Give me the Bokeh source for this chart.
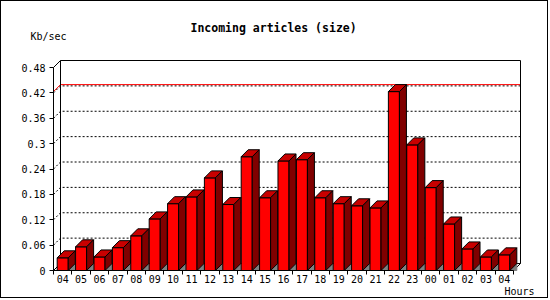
from bokeh.plotting import figure
from bokeh.models import FixedTicker, Label, Range1d
from bokeh.embed import file_html
from bokeh.resources import INLINE

# ---- data ----
hours = ["04", "05", "06", "07", "08", "09", "10", "11", "12", "13", "14", "15",
         "16", "17", "18", "19", "20", "21", "22", "23", "00", "01", "02", "03", "04"]
kbsec = [0.030, 0.056, 0.032, 0.054, 0.082, 0.122, 0.158, 0.174, 0.219, 0.156,
         0.269, 0.172, 0.259, 0.262, 0.172, 0.158, 0.153, 0.148, 0.423, 0.297,
         0.196, 0.110, 0.051, 0.032, 0.037]
y_ticks = [0, 0.06, 0.12, 0.18, 0.24, 0.30, 0.36, 0.42, 0.48]
y_tick_labels = ["0", "0.06", "0.12", "0.18", "0.24", "0.3", "0.36", "0.42", "0.48"]
title_text = "Incoming articles (size)"
y_title = "Kb/sec"
x_title = "Hours"

# ---- geometry (page pixels) ----
B = 1                         # outer border width
W, H = 550 - 2 * B, 300 - 2 * B
n = len(hours)
X0, Y0 = 53, 270              # page position of the front axes origin
PX_X = (513 - X0) / n         # px per category
PX_Y = (Y0 - 67) / 0.48       # px per unit
DEPTH = 7
DX = DEPTH / PX_X
DY = DEPTH / PX_Y
YTOP = y_ticks[-1]


def dxp(x):
    return (x - X0) / PX_X


def dyp(y):
    return (Y0 - y) / PX_Y


FONT = "DejaVu Sans Mono"

p = figure(width=W, height=H, output_backend="svg", toolbar_location=None,
           x_range=Range1d(dxp(B), dxp(B + W)), y_range=Range1d(dyp(B + H), dyp(B)),
           min_border=0, min_border_left=0, min_border_right=0,
           min_border_top=0, min_border_bottom=0)
p.styles = {"border": "1px solid black"}
p.outline_line_color = None
p.xgrid.visible = False
p.ygrid.visible = False
p.title.visible = False
p.background_fill_color = "white"
p.border_fill_color = "white"

# dotted grid lines (with the slanted part from front axis to back plane)
gx, gy = [], []
for t in y_ticks[1:-1]:
    gx.append([0, DX, n + DX])
    gy.append([t, t + DY, t + DY])
p.multi_line(gx, gy, line_color="black", line_width=1, line_dash="2 2")

# max line
m = max(kbsec)
p.line([0, DX, n + DX], [m, m + DY, m + DY], line_color="red", line_width=1)

# back plane box and corner diagonals
p.multi_line([[DX, DX, n + DX, n + DX, DX], [0, DX], [n, n + DX], [0, DX]],
             [[DY, YTOP + DY, YTOP + DY, DY, DY], [YTOP, YTOP + DY], [0, DY], [0, DY]],
             line_color="black", line_width=1)

# bars
lefts = [i + 0.2 for i in range(n)]
rights = [i + 0.8 for i in range(n)]
p.patches([[r, r + DX, r + DX] for r in rights],
          [[0, DY, 0] for _ in rights],
          fill_color="#808080", line_color="#808080")
p.quad(left=lefts, right=rights, bottom=[0] * n, top=kbsec,
       fill_color="#ff0000", line_color="black", line_width=1)
p.patches([[l, l + DX, r + DX, r] for l, r in zip(lefts, rights)],
          [[v, v + DY, v + DY, v] for v in kbsec],
          fill_color="#c80000", line_color="black", line_width=1)
p.patches([[r, r + DX, r + DX, r] for r in rights],
          [[0, DY, v + DY, v] for v in kbsec],
          fill_color="#800000", line_color="black", line_width=1)

# axes (placed at the data origin, inside the full-canvas frame)
xa = p.xaxis[0]
xa.fixed_location = 0
xa.ticker = FixedTicker(ticks=[i + 0.5 for i in range(n)], minor_ticks=list(range(n + 1)))
xa.major_label_overrides = {i + 0.5: h for i, h in enumerate(hours)}
xa.bounds = (0, n)
xa.major_tick_out = 0
xa.major_tick_in = 0
xa.minor_tick_out = 4
xa.minor_tick_in = 0
xa.minor_tick_line_color = "black"
xa.axis_line_color = "black"
xa.major_label_standoff = 0
xa.major_label_text_font = FONT
xa.major_label_text_font_size = "10px"
xa.major_label_text_color = "black"

ya = p.yaxis[0]
ya.fixed_location = 0
ya.ticker = FixedTicker(ticks=y_ticks, minor_ticks=[])
ya.major_label_overrides = {t: s for t, s in zip(y_ticks, y_tick_labels)}
ya.bounds = (0, YTOP)
ya.major_tick_out = 4
ya.major_tick_in = 0
ya.minor_tick_out = 0
ya.minor_tick_in = 0
ya.major_tick_line_color = "black"
ya.axis_line_color = "black"
ya.major_label_standoff = 4
ya.major_label_text_font = FONT
ya.major_label_text_font_size = "10px"
ya.major_label_text_color = "black"

# texts
p.add_layout(Label(x=dxp(190), y=dyp(27), text=title_text, text_align="left",
                   text_baseline="alphabetic", text_font=FONT, text_font_size="11.5px",
                   text_font_style="bold", text_color="black"))
p.add_layout(Label(x=dxp(30), y=dyp(36), text=y_title, text_align="left",
                   text_baseline="alphabetic", text_font=FONT, text_font_size="10px",
                   text_color="black"))
p.add_layout(Label(x=dxp(504), y=dyp(291), text=x_title, text_align="left",
                   text_baseline="alphabetic", text_font=FONT, text_font_size="10px",
                   text_color="black"))

open("out.html", "w").write(file_html(p, INLINE))
